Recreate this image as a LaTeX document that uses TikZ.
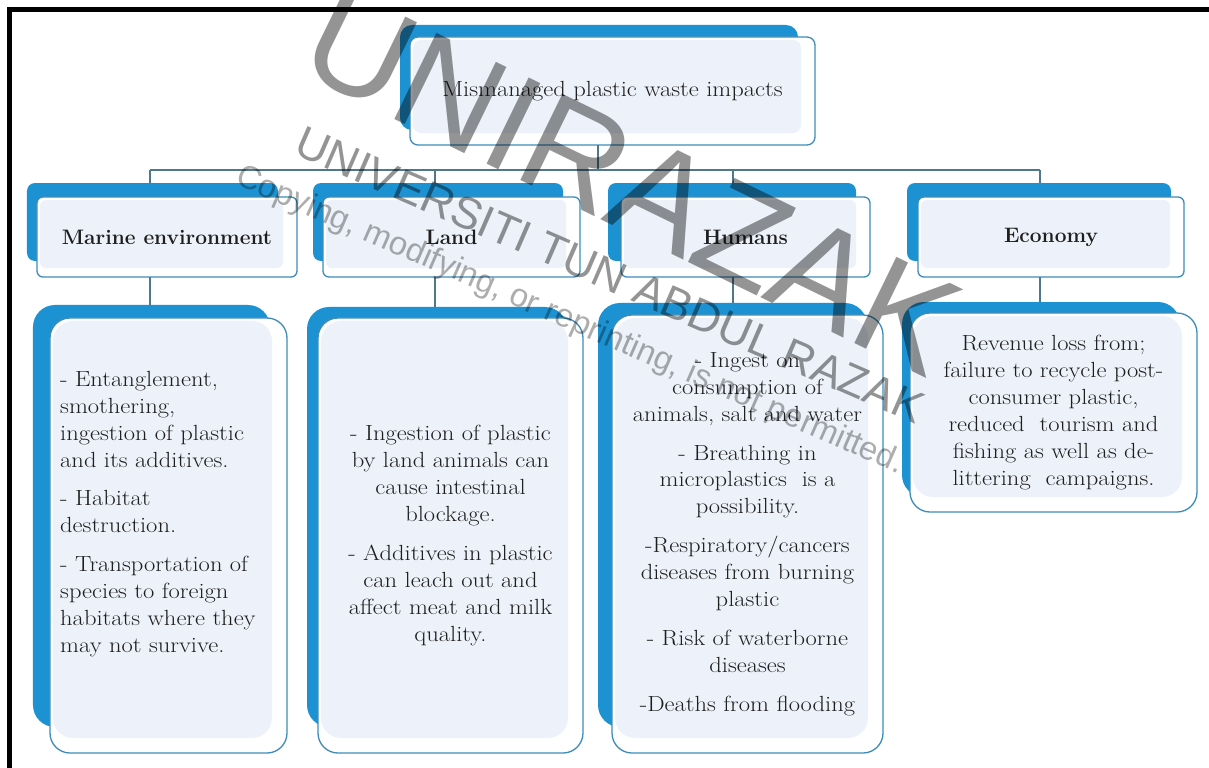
\documentclass[tikz,border=0pt]{standalone}
\usepackage{fontspec}
\newfontfamily\wmfont{Liberation Sans}
\newfontfamily\bodyfont{Latin Modern Roman}[FakeStretch=1.12]
\definecolor{backblue}{RGB}{28,146,210}
\definecolor{frontfill}{RGB}{237,242,250}
\definecolor{frontline}{RGB}{62,140,185}
\definecolor{conncol}{RGB}{80,120,140}
\definecolor{txt}{RGB}{30,30,30}
\tikzset{
  backshape/.style={fill=backblue, draw=none, inner sep=0pt, outer sep=0pt},
  frontbox/.style n args={3}{fill=white, draw=frontline, line width=1.3bp, inner sep=0pt, outer sep=0pt, align=center, text=txt,
     rounded corners=#1,
     path picture={\fill[frontfill, rounded corners=#1]
        ([shift={(3,3)}]path picture bounding box.north west) rectangle
        ([shift={(-#2,-#3)}]path picture bounding box.south east);}},
  hdr/.style={frontbox={6bp}{14}{9}, minimum width=#1, minimum height=80bp, font=\fontsize{21}{27}\selectfont\bfseries},
  hback/.style={backshape, rounded corners=8bp, minimum width=#1, minimum height=78bp},
  dback/.style={backshape, rounded corners=22bp},
  detail/.style={frontbox={20bp}{15}{15}, font=\bodyfont\fontsize{22}{27}\selectfont},
  conn/.style={draw=conncol, line width=1.6bp},
  wm/.style={text=black, opacity=0.42, inner sep=0pt},
}
\begin{document}
\begin{tikzpicture}[x=1bp,y=-1bp]
\useasboundingbox (0,0) rectangle (1209,768);
\fill[white] (0,0) rectangle (1209,768);
% frame
\draw[black, line width=5bp] (9.5,768) -- (9.5,9.5) -- (1209,9.5);

% top box
\node[backshape, rounded corners=12bp, minimum width=398bp, minimum height=105bp] (topb) at (599,77.5) {};
\node[frontbox={8bp}{14}{12}, minimum width=405bp, minimum height=108bp, font=\bodyfont\fontsize{22}{27}\selectfont] (top) at (612.5,91) {Mismanaged plastic waste impacts};

% header boxes
\node[hback=251bp] (b1) at (152.5,222) {};
\node[hdr=260bp] (h1) at (167,237) {Marine environment};
\node[hback=250bp] (b2) at (438,222) {};
\node[hdr=257bp] (h2) at (451.5,237) {Land};
\node[hback=248bp] (b3) at (732,222) {};
\node[hdr=249bp] (h3) at (745.5,237) {Humans};
\node[hback=264bp] (b4) at (1039,222) {};
\node[hdr=266bp] (h4) at (1051,237) {Economy};

% detail boxes
\node[dback, minimum width=237bp, minimum height=422bp] (bd1) at (151.5,516) {};
\node[detail, minimum width=237bp, minimum height=435bp] (d1) at (168.5,535.5) {};
\node[align=left, inner sep=0pt, text=txt, font=\bodyfont\fontsize{22}{27}\selectfont, anchor=west] (d1t) at (60,514)
 {- Entanglement,\\ smothering,\\ ingestion of plastic\\ and its additives.\\[12bp] - Habitat\\ destruction.\\[12bp] - Transportation of\\ species to foreign\\ habitats where they\\ may not survive.};

\node[dback, minimum width=260bp, minimum height=420bp] (bd2) at (437,517) {};
\node[detail, minimum width=265bp, minimum height=435bp] (d2) at (450.5,535.5)
 {- Ingestion of plastic\\ by land animals can\\ cause intestinal\\ blockage.\\[12bp] - Additives in plastic\\ can leach out and\\ affect meat and milk\\ quality.};

\node[dback, minimum width=269bp, minimum height=424bp] (bd3) at (732.5,515) {};
\node[detail, minimum width=271bp, minimum height=438bp] (d3) at (747.5,534)
 {- Ingest on\\ consumption of\\ animals, salt and water\\[12bp] - Breathing in\\ microplastics \ is a\\ possibility.\\[12bp] -Respiratory/cancers\\ diseases from burning\\ plastic\\[12bp] - Risk of waterborne\\ diseases\\[12bp] -Deaths from flooding};

\node[dback, minimum width=278bp, minimum height=195bp] (bd4) at (1041,399.5) {};
\node[detail, minimum width=287bp, minimum height=199bp] (d4) at (1053.5,412.5)
 {Revenue loss from;\\ failure to recycle post-\\ consumer plastic,\\ reduced \ tourism and\\ fishing as well as de-\\ littering \ campaigns.};

% connectors
\coordinate (j0) at (598,170);
\coordinate (c1) at (150,170);
\coordinate (c2) at (435,170);
\coordinate (c3) at (733,170);
\coordinate (c4) at (1040,170);
\draw[conn] (j0 |- top.south) -- (j0);
\draw[conn] (c1) -- (c4);
\draw[conn] (c1) -- (c1 |- b1.north);
\draw[conn] (c2) -- (c2 |- b2.north);
\draw[conn] (c3) -- (c3 |- b3.north);
\draw[conn] (c4) -- (c4 |- b4.north);
\draw[conn] (c1 |- h1.south) -- (c1 |- bd1.north);
\draw[conn] (c2 |- h2.south) -- (c2 |- bd2.north);
\draw[conn] (c3 |- h3.south) -- (c3 |- bd3.north);
\draw[conn] (c4 |- h4.south) -- (c4 |- bd4.north);

% watermark
\node[wm, rotate=-26, font=\wmfont\fontsize{140}{140}\selectfont] (wm1) at (632,182) {UNIRAZAK};
\node[wm, rotate=-23.5, font=\wmfont\fontsize{45}{45}\selectfont] (wm2) at (610,275) {UNIVERSITI TUN ABDUL RAZAK};
\node[wm, opacity=0.32, rotate=-23.6, font=\wmfont\fontsize{33}{33}\selectfont] (wm3) at (570,321) {Copying, modifying, or reprinting, is not permitted.};
\end{tikzpicture}
\end{document}
